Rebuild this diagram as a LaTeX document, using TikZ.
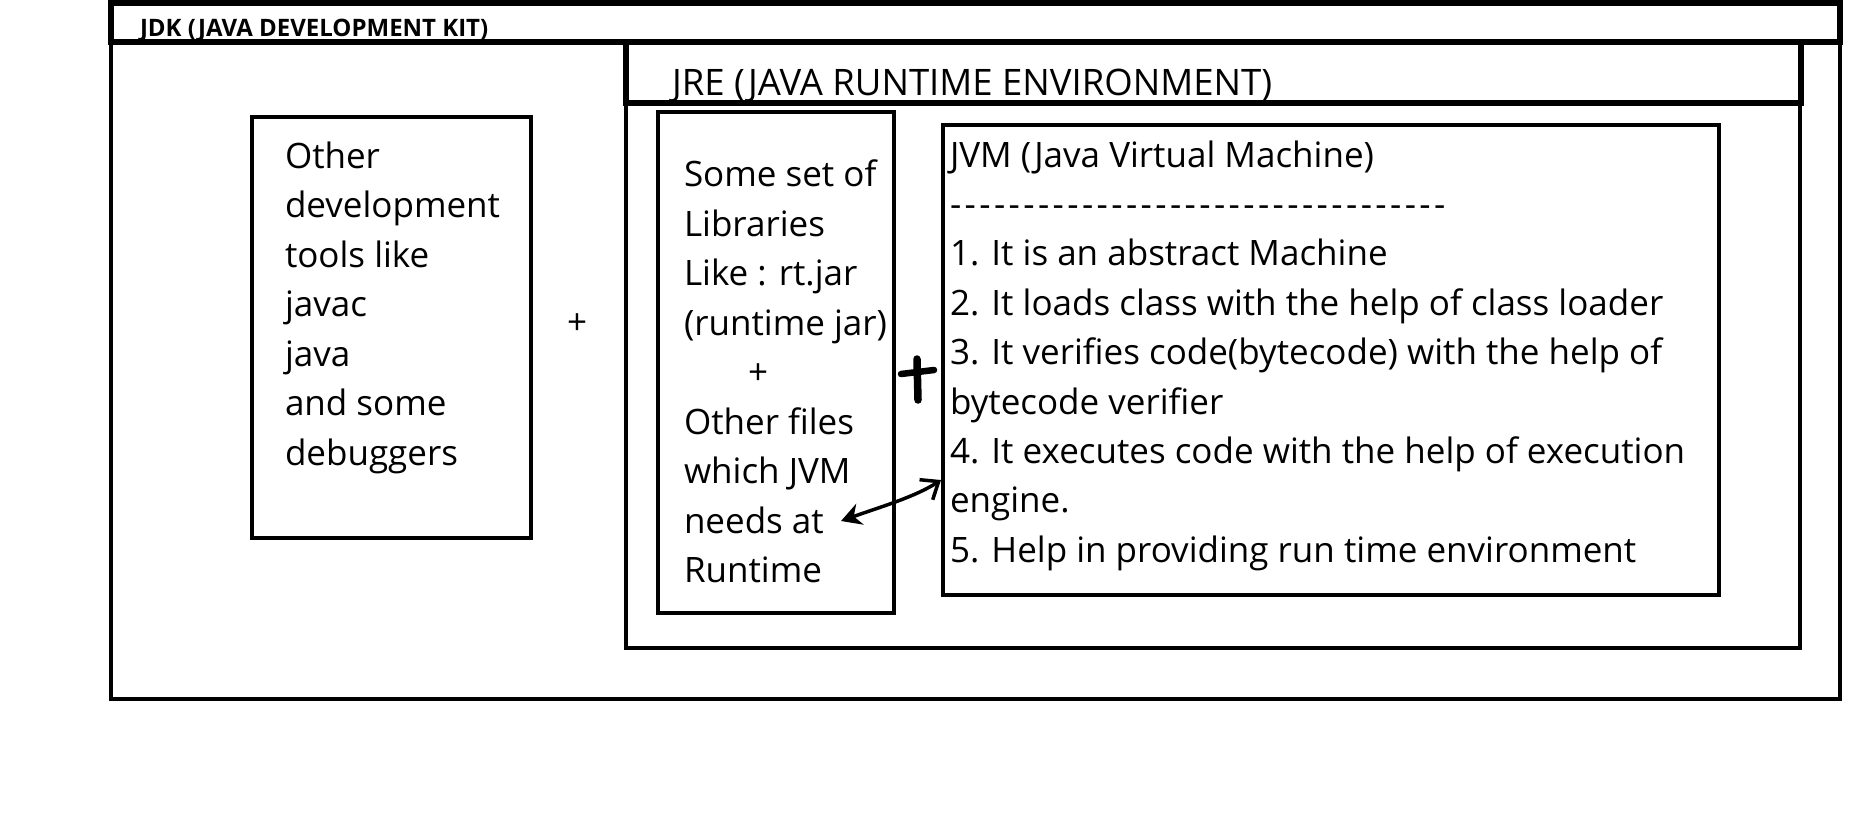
\documentclass[tikz,border=0pt]{standalone}
\usepackage{fontspec}
\setmainfont{Open Sans}
\usetikzlibrary{arrows.meta}
\newcommand\jvmdashes{\foreach \k in {1,...,34}{-\kern3.4pt}}
\begin{document}
\begin{tikzpicture}[x=1pt,y=-1pt,
  box/.style={draw=black, line width=4.5pt, inner sep=0pt, outer sep=0pt, anchor=north west, fill=none},
  bar/.style={box, line width=5.5pt},
  body/.style={anchor=base west, inner sep=0pt, outer sep=0pt, font=\fontsize{35}{49.5}\selectfont},
  plus/.style={anchor=base, inner sep=0pt, outer sep=0pt, font=\fontsize{35}{49.5}\selectfont},
  ttl/.style={anchor=base west, inner sep=0pt, outer sep=0pt},
  hand/.style={line width=3.5pt, black},
  brush/.style={line width=7.5pt, line cap=round, black}
]
\useasboundingbox (0,0) rectangle (1865,825);
\fill[white] (0,0) rectangle (1865,825);

% outer boxes
\node[box, minimum width=1729pt, minimum height=657pt] (jdk) at (111,42) {};
\node[bar, minimum width=1729pt, minimum height=39pt] (jdkbar) at (111,3) {};
\node[box, minimum width=1174pt, minimum height=545pt] (jre) at (626,103) {};
\node[bar, minimum width=1175pt, minimum height=61pt] (jrebar) at (626,42) {};

% inner boxes
\node[box, minimum width=279pt, minimum height=421pt] (tools) at (252,117) {};
\node[box, minimum width=236pt, minimum height=501pt] (libs) at (658,112) {};
\node[box, minimum width=776pt, minimum height=470pt] (jvm) at (943,125) {};

% titles
\node[ttl, font=\fontsize{24}{28}\selectfont\bfseries] (jdkt) at (140,36) {JDK (JAVA DEVELOPMENT KIT)};
\node[ttl, font=\fontsize{36.5}{44}\selectfont] (jret) at (672,95) {JRE (JAVA RUNTIME ENVIRONMENT)};

% left box text
\foreach \t [count=\i] in {Other, development, tools like, javac, java, and some, debuggers}
  \node[body] (o\i) at (285,{168+49.5*(\i-1)}) {\t};

% plus between
\node[plus] (plusA) at (577,334) {+};

% libraries text
\foreach \t [count=\i] in {Some set of, Libraries, Like : rt.jar, (runtime jar)}
  \node[body] (s\i) at (684,{186.5+49.5*(\i-1)}) {\t};
\node[plus] (plusB) at (758,384.5) {+};
\foreach \t [count=\i] in {Other files, which JVM, needs at, Runtime}
  \node[body] (r\i) at (684,{434+49.5*(\i-1)}) {\t};

% JVM text
\node[body] (j0) at (950,167) {JVM (Java Virtual Machine)};
\node[body] (jd) at (950,216.4) {\jvmdashes};
\foreach \t [count=\i] in {1. It is an abstract Machine, 2. It loads class with the help of class loader, 3. It verifies code(bytecode) with the help of, bytecode verifier, 4. It executes code with the help of execution, engine., 5. Help in providing run time environment}
  \node[body] (j\i) at (950,{265.8+49.4*(\i-1)}) {\t};

% hand drawn plus
\draw[brush] (917,359) -- (918,400);
\draw[line width=6.5pt, line cap=round] (901,374) -- (934,370);

% hand drawn double arrow
\coordinate (aL) at (841,521);
\coordinate (aR) at (941,480);
\draw[hand, {Stealth[length=20pt,width=22pt]}-{Straight Barb[length=15pt,width=24pt]}] (aL) .. controls (880,507) and (915,497) .. (aR);
\end{tikzpicture}
\end{document}
